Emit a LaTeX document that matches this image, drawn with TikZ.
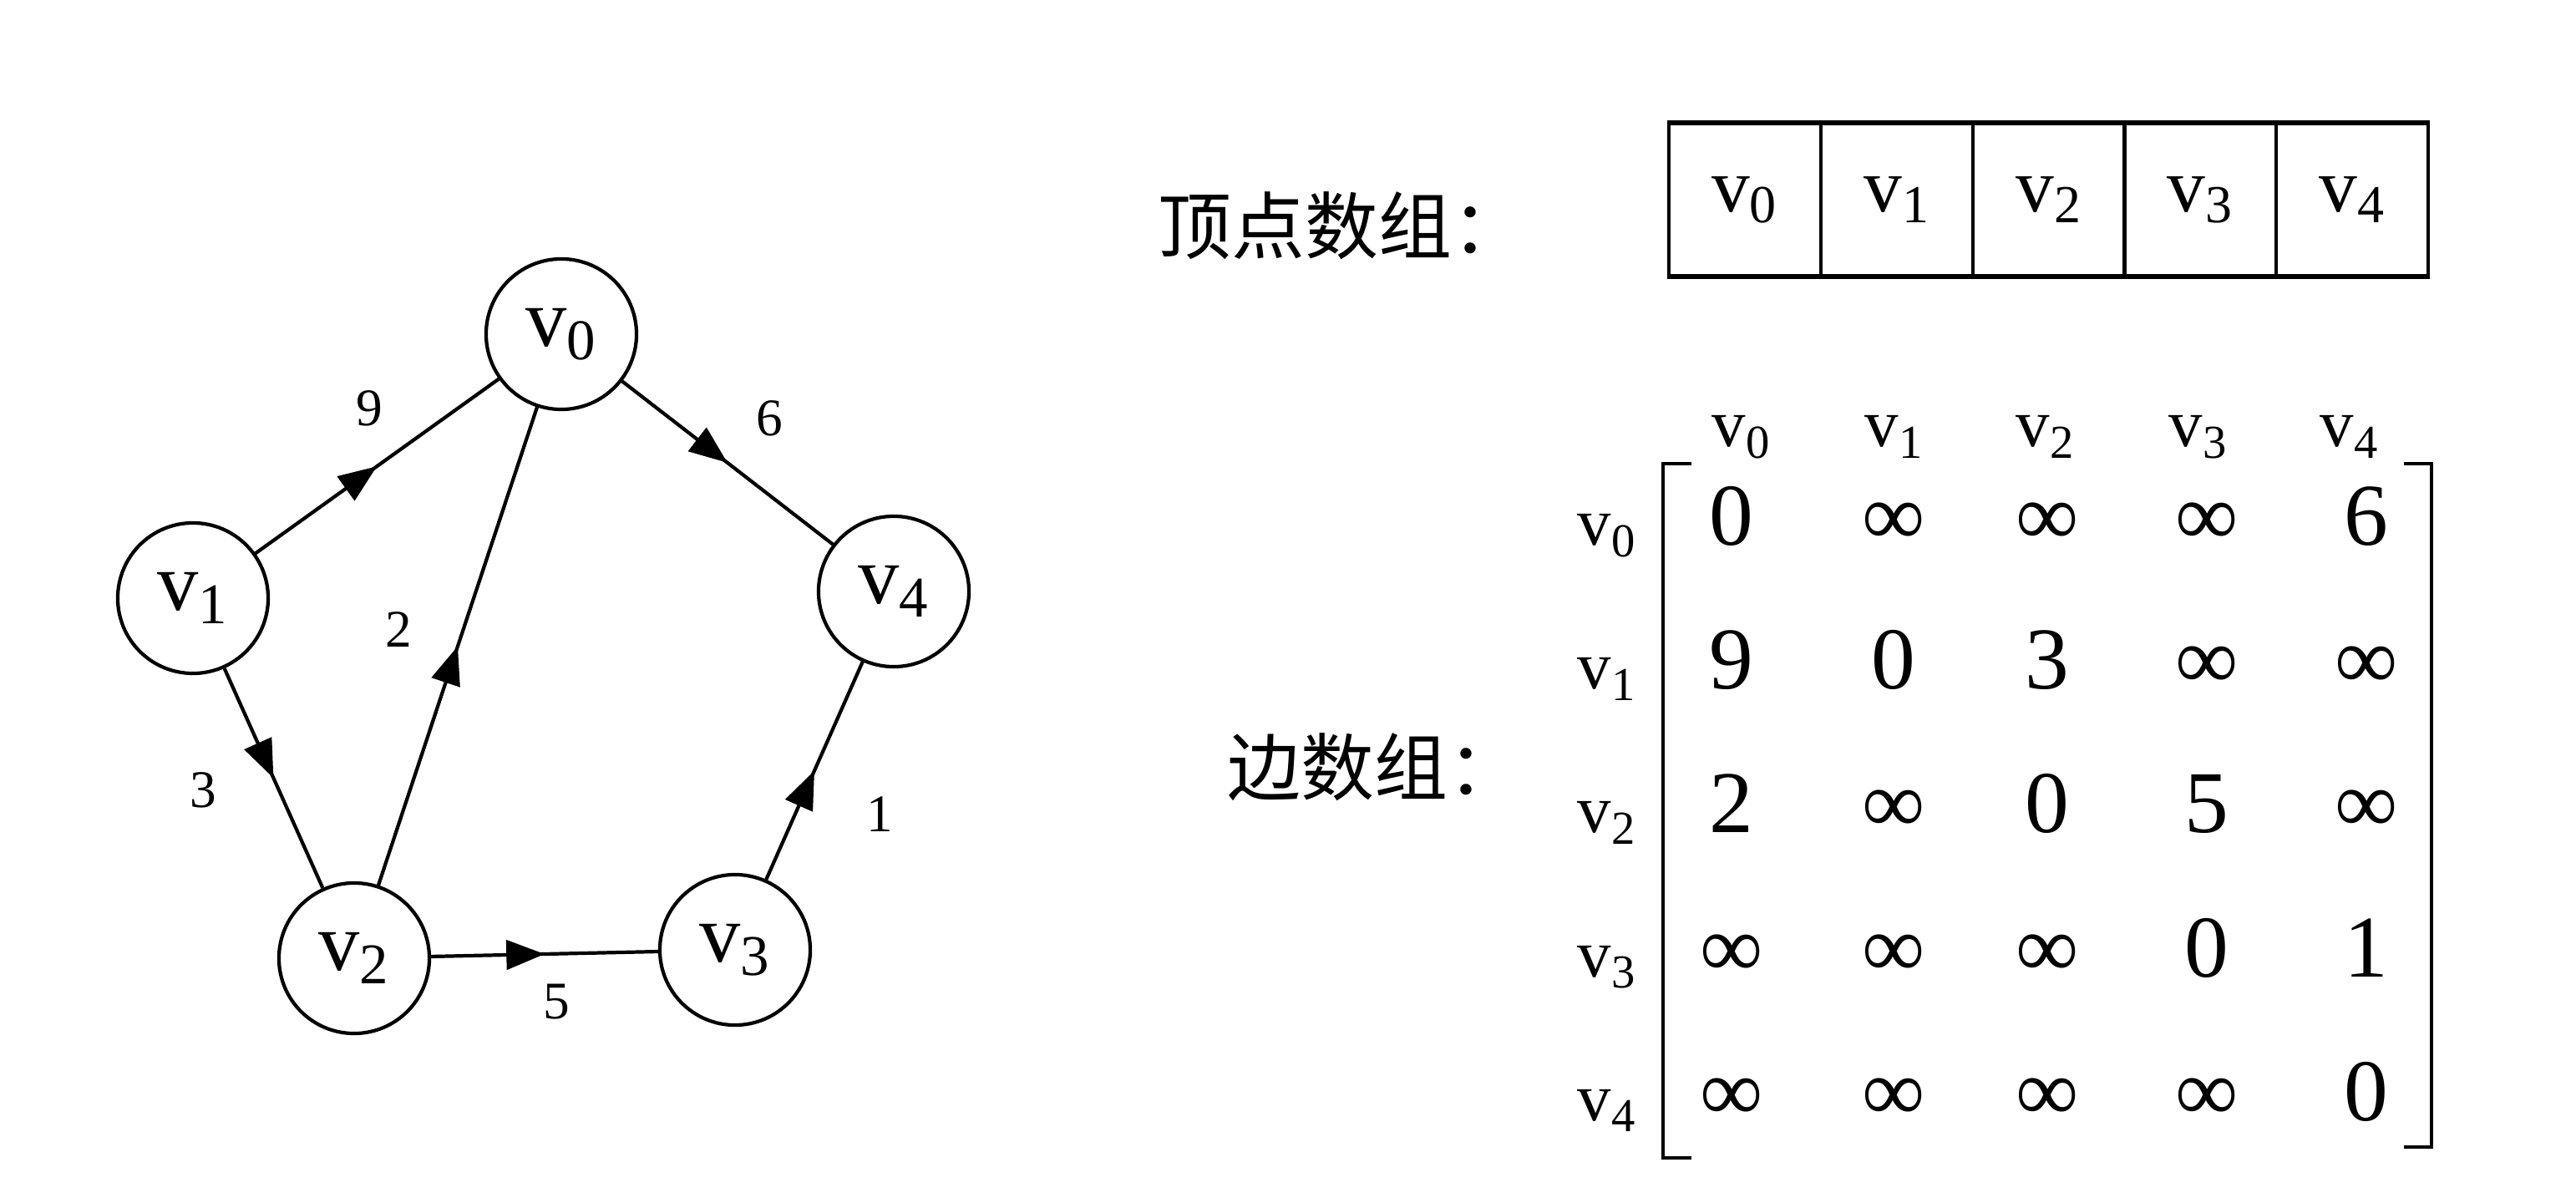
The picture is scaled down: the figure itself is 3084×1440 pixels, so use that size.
\documentclass[tikz,border=0pt]{standalone}
\usepackage{fontspec}
\setmainfont{Liberation Serif}
\newfontfamily\cjk{Noto Sans CJK SC}
\usetikzlibrary{arrows.meta,decorations.markings}
\newcommand{\vx}[1]{v\textsubscript{#1}}
\begin{document}
\begin{tikzpicture}[x=0.01cm,y=-0.01cm]
\tikzstyle{vertex}=[circle, draw, line width=1.2pt, minimum size=1.8cm, inner sep=0pt, font=\fontsize{28}{30}\selectfont];
\tikzstyle{weight}=[inner sep=0pt, font=\fontsize{18}{20}\selectfont];
\tikzstyle{mid}=[line width=1.2pt, decoration={markings, mark=at position 0.5 with {\arrow{Triangle[length=13pt,width=10pt]}}}, postaction={decorate}];
\tikzstyle{cell}=[draw, line width=0.9pt, minimum width=1.818cm, minimum height=1.82cm, inner sep=0pt, font=\fontsize{26}{28}\selectfont];
\tikzstyle{title}=[anchor=west, inner sep=0pt, font=\cjk\fontsize{25}{28}\selectfont];
\tikzstyle{head}=[anchor=base, inner sep=0pt, font=\fontsize{23}{25}\selectfont];
\tikzstyle{entry}=[anchor=base, inner sep=0pt, font=\fontsize{30}{32}\selectfont];
\tikzstyle{inf}=[entry];
\useasboundingbox (0,0) rectangle (3084,1440);
% graph
\node [vertex] (v0) at (672,400) {\vx{0}};
\node [vertex] (v1) at (231,716) {\vx{1}};
\node [vertex] (v2) at (424,1147) {\vx{2}};
\node [vertex] (v3) at (880,1137) {\vx{3}};
\node [vertex] (v4) at (1070,708) {\vx{4}};
\draw (v1) edge [mid] (v0);
\draw (v0) edge [mid] (v4);
\draw (v2) edge [mid] (v0);
\draw (v1) edge [mid] (v2);
\draw (v2) edge [mid] (v3);
\draw (v3) edge [mid] (v4);
\node [weight] (w9) at (442,489) {9};
\node [weight] (w6) at (921,501) {6};
\node [weight] (w2) at (477,754) {2};
\node [weight] (w3) at (243,946) {3};
\node [weight] (w1) at (1053,975) {1};
\node [weight] (w5) at (666,1199) {5};
% vertex array
\node [title] (t1) at (1386,270) {顶点数组：};
\node [cell] (c0) at (2089,239) {\vx{0}};
\node [cell] (c1) at (2271,239) {\vx{1}};
\node [cell] (c2) at (2453,239) {\vx{2}};
\node [cell] (c3) at (2634,239) {\vx{3}};
\node [cell] (c4) at (2816,239) {\vx{4}};
\draw [line width=1.6pt] (c0.north west) -- (c4.north east);
\draw [line width=1.6pt] (c0.south west) -- (c4.south east);
% edge array
\node [title] (t2) at (1469,918) {边数组：};
\node [head] (h0) at (2085,535) {\vx{0}};
\node [head] (h1) at (2268,535) {\vx{1}};
\node [head] (h2) at (2449,535) {\vx{2}};
\node [head] (h3) at (2632,535) {\vx{3}};
\node [head] (h4) at (2813,535) {\vx{4}};
\node [head] (r0) at (1924,653) {\vx{0}};
\node [head] (r1) at (1924,825) {\vx{1}};
\node [head] (r2) at (1924,997) {\vx{2}};
\node [head] (r3) at (1924,1169) {\vx{3}};
\node [head] (r4) at (1924,1341) {\vx{4}};
\node [entry] (m00) at (2073,653) {0};
\node [inf] (m01) at (2267,653) {∞};
\node [inf] (m02) at (2451,653) {∞};
\node [inf] (m03) at (2642,653) {∞};
\node [entry] (m04) at (2833,653) {6};
\node [entry] (m10) at (2073,825) {9};
\node [entry] (m11) at (2267,825) {0};
\node [entry] (m12) at (2451,825) {3};
\node [inf] (m13) at (2642,825) {∞};
\node [inf] (m14) at (2833,825) {∞};
\node [entry] (m20) at (2073,997) {2};
\node [inf] (m21) at (2267,997) {∞};
\node [entry] (m22) at (2451,997) {0};
\node [entry] (m23) at (2642,997) {5};
\node [inf] (m24) at (2833,997) {∞};
\node [inf] (m30) at (2073,1169) {∞};
\node [inf] (m31) at (2267,1169) {∞};
\node [inf] (m32) at (2451,1169) {∞};
\node [entry] (m33) at (2642,1169) {0};
\node [entry] (m34) at (2833,1169) {1};
\node [inf] (m40) at (2073,1341) {∞};
\node [inf] (m41) at (2267,1341) {∞};
\node [inf] (m42) at (2451,1341) {∞};
\node [inf] (m43) at (2642,1341) {∞};
\node [entry] (m44) at (2833,1341) {0};
\draw [line width=1.2pt] (2025,555) -- (1991,555) -- (1991,1386) -- (2025,1386);
\draw [line width=1.2pt] (2878,555) -- (2911,555) -- (2911,1373) -- (2878,1373);
\end{tikzpicture}
\end{document}
